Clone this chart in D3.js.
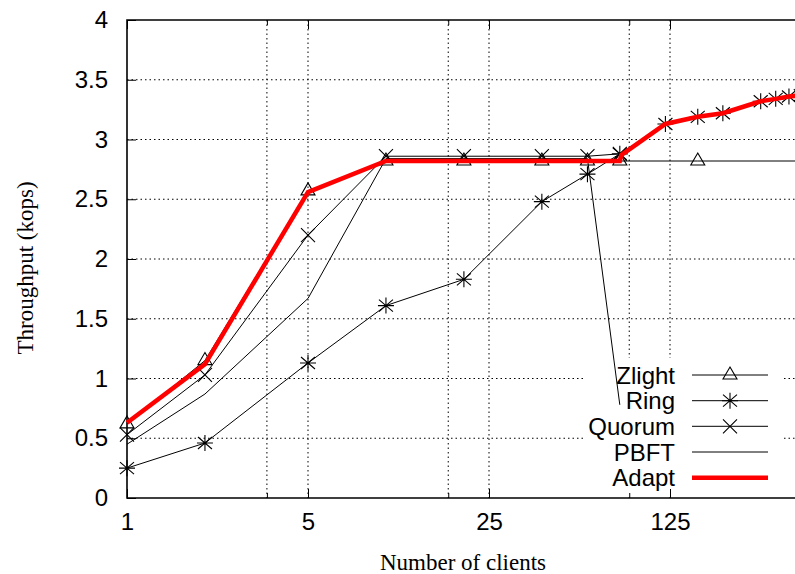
<!DOCTYPE html>
<html><head><meta charset="utf-8">
<script src="https://cdn.jsdelivr.net/npm/d3@7"></script>
<style>html,body{margin:0;padding:0;background:#fff;overflow:hidden}</style>
</head><body>
<svg id="c" width="795" height="574"></svg>
<script>
// ---- data ----
const yTicks = [0, 0.5, 1, 1.5, 2, 2.5, 3, 3.5, 4];
const yTickLabels = ["0", "0.5", "1", "1.5", "2", "2.5", "3", "3.5", "4"];
const xMajorTicks = [1, 5, 25, 125];
const xTickLabels = ["1", "5", "25", "125"];
const xMinorTicks = [3.47, 17.4, 87];

const zlightX = [1, 2, 5, 10, 20, 40, 60, 80, 160, 400];
const zlightY = [0.62, 1.15, 2.57, 2.82, 2.82, 2.82, 2.82, 2.82, 2.82, 2.82];
const zlightMarks = [1, 2, 5, 10, 20, 40, 60, 80, 160];

const ringX = [1, 2, 5, 10, 20, 40, 60, 80, 120, 160, 200, 280, 320, 360, 400];
const ringY = [0.25, 0.46, 1.13, 1.61, 1.83, 2.48, 2.71, 2.88, 3.13, 3.19, 3.22, 3.32, 3.34, 3.36, 3.37];

const quorumX = [1, 2, 5, 10, 20, 40, 60, 80];
const quorumY = [0.53, 1.03, 2.2, 2.86, 2.86, 2.86, 2.86, 2.88];

const pbftX = [1, 2, 5, 10, 20, 40, 60, 80];
const pbftY = [0.45, 0.87, 1.67, 2.84, 2.84, 2.84, 2.84, 0.78];

const adaptX = [1, 2, 5, 10, 20, 40, 60, 80, 81, 120, 160, 200, 280, 320, 360, 400];
const adaptY = [0.63, 1.12, 2.56, 2.82, 2.82, 2.82, 2.82, 2.82, 2.87, 3.13, 3.19, 3.22, 3.32, 3.34, 3.36, 3.37];

const legendNames = ["Zlight", "Ring", "Quorum", "PBFT", "Adapt"];

// ---- layout ----
const svg = d3.select("#c");
const pLeft = 127, pTop = 20, pBottom = 498;
const decade = 181;
const xMax = 500;
const pRight = pLeft + decade * Math.log(xMax) / Math.log(5);
const x = d3.scaleLog().base(5).domain([1, xMax]).range([pLeft, pRight]);
const y = d3.scaleLinear().domain([0, 4]).range([pBottom, pTop]);
const sans = "'Liberation Sans', Arial, Helvetica, sans-serif";
const serif = "'Liberation Serif', 'Times New Roman', serif";
const fs = 24;

// grid
const grid = svg.append("g").attr("stroke", "#000").attr("stroke-width", 1)
  .attr("stroke-dasharray", "1.5,3").attr("fill", "none");
yTicks.filter(v => v > 0 && v < 4).forEach(v => {
  grid.append("line").attr("x1", pLeft).attr("x2", pRight).attr("y1", y(v)).attr("y2", y(v));
});
xMajorTicks.concat(xMinorTicks).filter(v => v > 1).forEach(v => {
  grid.append("line").attr("x1", x(v)).attr("x2", x(v)).attr("y1", pTop).attr("y2", pBottom);
});
// key area masks the grid
svg.append("rect").attr("x", 583).attr("y", 358).attr("width", 200).attr("height", 137).attr("fill", "#fff");

// axes via d3
const yAxis = d3.axisLeft(y).tickValues(yTicks).tickFormat((d, i) => yTickLabels[i]).tickSize(-9).tickPadding(19);
const gy = svg.append("g").attr("transform", `translate(${pLeft},0)`).call(yAxis);
gy.select(".domain").remove();
gy.selectAll("line").attr("stroke", "#000").attr("stroke-width", 1);
gy.selectAll("text").attr("font-family", sans).attr("font-size", fs).attr("fill", "#000");

const xAxis = d3.axisBottom(x).tickValues(xMajorTicks).tickFormat((d, i) => xTickLabels[i]).tickSize(-9).tickPadding(15);
const gx = svg.append("g").attr("transform", `translate(0,${pBottom})`).call(xAxis);
gx.select(".domain").remove();
gx.selectAll("line").attr("stroke", "#000").attr("stroke-width", 1);
gx.selectAll("text").attr("font-family", sans).attr("font-size", fs).attr("fill", "#000");
const xMinorAxis = d3.axisBottom(x).tickValues(xMinorTicks).tickFormat("").tickSize(-5);
const gxm = svg.append("g").attr("transform", `translate(0,${pBottom})`).call(xMinorAxis);
gxm.select(".domain").remove();
gxm.selectAll("line").attr("stroke", "#000");
// mirrored top ticks
const xTop = d3.axisTop(x).tickValues(xMajorTicks).tickFormat("").tickSize(-9);
const gt = svg.append("g").attr("transform", `translate(0,${pTop})`).call(xTop);
gt.select(".domain").remove(); gt.selectAll("line").attr("stroke", "#000");
const xTopMinor = d3.axisTop(x).tickValues(xMinorTicks).tickFormat("").tickSize(-5);
const gtm = svg.append("g").attr("transform", `translate(0,${pTop})`).call(xTopMinor);
gtm.select(".domain").remove(); gtm.selectAll("line").attr("stroke", "#000");

// border
svg.append("path").attr("d", `M${pRight},${pTop}H${pLeft}V${pBottom}H${pRight}`)
  .attr("fill", "none").attr("stroke", "#000").attr("stroke-width", 1.6);

// titles
svg.append("text").attr("x", 463).attr("y", 570).attr("text-anchor", "middle")
  .attr("font-family", serif).attr("font-size", 23).text("Number of clients");
svg.append("text").attr("transform", "translate(33,268) rotate(-90)").attr("text-anchor", "middle")
  .attr("font-family", serif).attr("font-size", 23).text("Throughput (kops)");

// markers
const triPath = "M0,-8L7,4L-7,4Z";
const starPath = "M0,-8V8M-7,-6L7,6M-7,6L7,-6M-8,0H8";
const crossPath = "M-7,-7L7,7M-7,7L7,-7";
function marks(xs, ys, path) {
  const g = svg.append("g");
  xs.forEach((xv, i) => {
    g.append("path").attr("d", path).attr("transform", `translate(${x(xv)},${y(ys[i])})`)
      .attr("fill", "none").attr("stroke", "#000").attr("stroke-width", 1.1);
  });
}
const line = d3.line().x(d => x(d[0])).y(d => y(d[1]));
function series(xs, ys, color, width) {
  svg.append("path").datum(xs.map((v, i) => [v, ys[i]])).attr("d", line)
    .attr("fill", "none").attr("stroke", color).attr("stroke-width", width).attr("stroke-linejoin", "miter");
}
series(zlightX, zlightY, "#000", 1);
marks(zlightMarks, zlightMarks.map(v => zlightY[zlightX.indexOf(v)]), triPath);
series(ringX, ringY, "#000", 1);
marks(ringX, ringY, starPath);
series(quorumX, quorumY, "#000", 1);
marks(quorumX, quorumY, crossPath);
series(pbftX, pbftY, "#000", 1);
series(adaptX, adaptY, "#ff0000", 4.5);

// legend
const lg = svg.append("g");
const rowY = [375, 400.7, 426.3, 452, 477.7];
const lgPaths = [triPath, starPath, crossPath, null, null];
legendNames.forEach((n, i) => {
  lg.append("text").attr("x", 675).attr("y", rowY[i] + 8.5).attr("text-anchor", "end")
    .attr("font-family", sans).attr("font-size", fs).text(n);
  const red = i === 4;
  lg.append("line").attr("x1", 692).attr("x2", 768).attr("y1", rowY[i]).attr("y2", rowY[i])
    .attr("stroke", red ? "#ff0000" : "#000").attr("stroke-width", red ? 4.5 : 1);
  if (lgPaths[i]) lg.append("path").attr("d", lgPaths[i]).attr("transform", `translate(730,${rowY[i]})`)
    .attr("fill", "none").attr("stroke", "#000").attr("stroke-width", 1.1);
});
</script>
</body></html>
